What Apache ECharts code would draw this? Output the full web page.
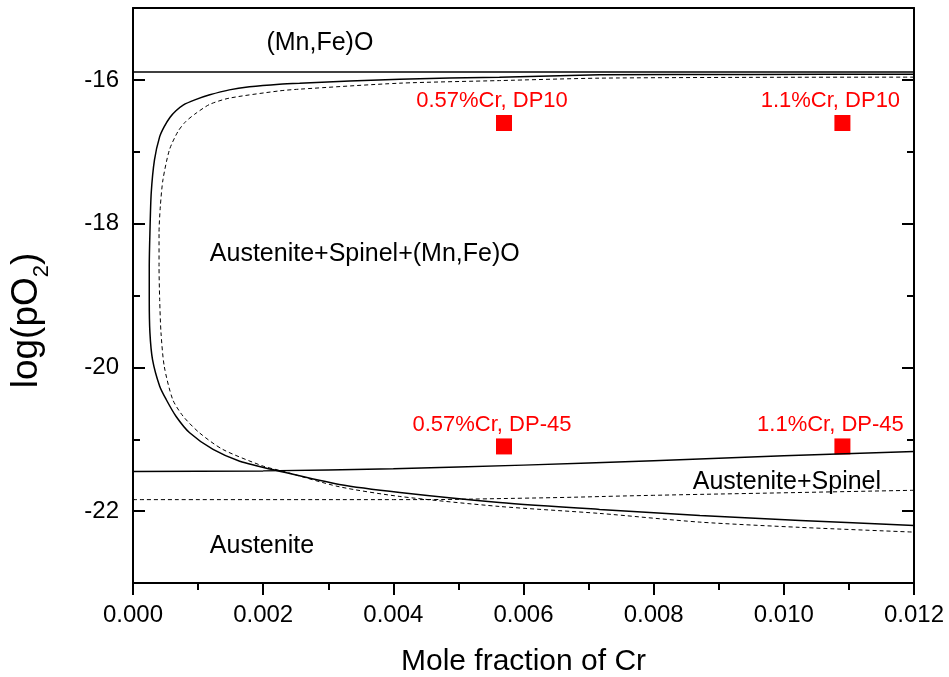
<!DOCTYPE html>
<html>
<head>
<meta charset="utf-8">
<script src="https://cdn.jsdelivr.net/npm/echarts@6/dist/echarts.min.js"></script>
<style>
  html, body { margin: 0; padding: 0; background: #fff; }
  #chart { width: 949px; height: 677px; }
</style>
</head>
<body>
<div id="chart"></div>
<script>
// phase boundary (Mn,Fe)O
const mnfeoLine = [[0, -15.89], [0.012, -15.89]];

// spinel stability loop, solid and dashed
const loopSolid = [
  [0.012, -15.92], [0.00948, -15.924], [0.00717, -15.93], [0.00563, -15.962],
  [0.0041, -15.99], [0.00256, -16.046], [0.00225, -16.06], [0.00179, -16.097],
  [0.00148, -16.139], [0.00118, -16.208], [0.00095, -16.278], [0.00077, -16.35],
  [0.00066, -16.43], [0.00057, -16.52], [0.00048, -16.65], [0.00041, -16.79],
  [0.00033, -17.112], [0.00028, -17.575], [0.00026, -18.127], [0.00025, -18.595],
  [0.00025, -19.058], [0.00026, -19.516], [0.0003, -19.891], [0.00041, -20.262],
  [0.00051, -20.447], [0.00066, -20.68], [0.00087, -20.91], [0.00123, -21.142],
  [0.00164, -21.305], [0.00225, -21.444], [0.00317, -21.629], [0.0041, -21.74],
  [0.00563, -21.879], [0.00717, -21.976], [0.00871, -22.06], [0.01025, -22.129],
  [0.012, -22.199]
];
const loopDashed = [
  [0.012, -15.962], [0.00948, -15.965], [0.00717, -15.976], [0.00563, -16.01],
  [0.0041, -16.046], [0.00256, -16.129], [0.00225, -16.153], [0.00148, -16.254],
  [0.00118, -16.34], [0.00097, -16.463], [0.00081, -16.58], [0.00069, -16.719],
  [0.00056, -16.973], [0.00046, -17.39], [0.00042, -17.761], [0.0004, -18.127],
  [0.0004, -18.595], [0.00041, -19.058], [0.00043, -19.516], [0.00048, -19.985],
  [0.00061, -20.447], [0.00077, -20.68], [0.00102, -20.91], [0.00138, -21.142],
  [0.002, -21.374], [0.0023, -21.444], [0.00317, -21.661], [0.0041, -21.796],
  [0.00563, -21.935], [0.00717, -22.032], [0.00871, -22.153], [0.01025, -22.226],
  [0.012, -22.292]
];

// austenite / austenite+spinel boundary
const crGrid = [0, 0.002, 0.004, 0.006, 0.008, 0.010, 0.012];
const spinelSolid = [-21.45, -21.44, -21.41, -21.36, -21.30, -21.23, -21.17];
const spinelDashed = [-21.84, -21.84, -21.84, -21.82, -21.78, -21.745, -21.71];

// experimental conditions
const expNames = ["0.57%Cr, DP10", "1.1%Cr, DP10", "0.57%Cr, DP-45", "1.1%Cr, DP-45"];
const expCr = [0.0057, 0.0109, 0.0057, 0.0109];
const expLogPO2 = [-16.6, -16.6, -21.1, -21.1];

// region names
const regionNames = ["(Mn,Fe)O", "Austenite+Spinel+(Mn,Fe)O", "Austenite+Spinel", "Austenite"];
const regionCr = [0.00205, 0.00118, 0.0086, 0.00118];
const regionLogPO2 = [-15.49, -18.43, -21.60, -22.49];

const yMajor = [-22, -20, -18, -16];

const font = "Liberation Sans, Arial, sans-serif";
const chart = echarts.init(document.getElementById("chart"));

const baseY = {
  type: "value",
  min: -23,
  max: -15,
  interval: 1,
  splitLine: { show: false }
};

chart.setOption({
  animation: false,
  grid: { left: 133, right: 35, top: 8, bottom: 94, outerBoundsMode: "none" },
  xAxis: [
    {
      type: "value",
      position: "bottom",
      min: 0,
      max: 0.012,
      interval: 0.002,
      name: "Mole fraction of Cr",
      nameLocation: "middle",
      nameGap: 64,
      nameTextStyle: { fontFamily: font, fontSize: 30, color: "#000" },
      axisLine: { lineStyle: { color: "#000", width: 2 } },
      axisTick: { length: 12, lineStyle: { color: "#000", width: 2 } },
      minorTick: { show: true, splitNumber: 2, length: 7, lineStyle: { color: "#000", width: 2 } },
      axisLabel: {
        fontFamily: font, fontSize: 24, color: "#000", margin: 20,
        formatter: v => v.toFixed(3)
      },
      splitLine: { show: false }
    },
    {
      type: "value",
      position: "top",
      min: 0,
      max: 0.012,
      axisLine: { lineStyle: { color: "#000", width: 2 } },
      axisTick: { show: false },
      axisLabel: { show: false },
      splitLine: { show: false }
    }
  ],
  yAxis: [
    Object.assign({}, baseY, {
      position: "left",
      name: "{a|log(pO}{sub|2}{a|)}",
      nameLocation: "middle",
      nameGap: 80,
      nameTextStyle: {
        padding: [0, 50, 0, 0],
        rich: {
          a: { fontFamily: font, fontSize: 37, color: "#000" },
          sub: { fontFamily: font, fontSize: 22, color: "#000", verticalAlign: "top", padding: [30, 0, 0, 0] }
        }
      },
      axisLine: { lineStyle: { color: "#000", width: 2 } },
      axisTick: { inside: true, length: 7, lineStyle: { color: "#000", width: 2 } },
      axisLabel: {
        fontFamily: font, fontSize: 24, color: "#000", margin: 14,
        formatter: v => (Math.abs(v) % 2 === 0 ? String(v) : "")
      }
    }),
    // longer ticks on the labelled values
    Object.assign({}, baseY, {
      position: "left",
      axisLine: { show: false },
      axisTick: { inside: true, length: 12, customValues: yMajor, lineStyle: { color: "#000", width: 2 } },
      axisLabel: { show: false }
    }),
    Object.assign({}, baseY, {
      position: "right",
      axisLine: { lineStyle: { color: "#000", width: 2 } },
      axisTick: { inside: true, length: 7, lineStyle: { color: "#000", width: 2 } },
      axisLabel: { show: false }
    }),
    Object.assign({}, baseY, {
      position: "right",
      axisLine: { show: false },
      axisTick: { inside: true, length: 12, customValues: yMajor, lineStyle: { color: "#000", width: 2 } },
      axisLabel: { show: false }
    })
  ],
  series: [
    {
      type: "line",
      data: mnfeoLine,
      showSymbol: false,
      lineStyle: { color: "#000", width: 1.5 }
    },
    {
      type: "line",
      data: loopSolid,
      showSymbol: false,
      smooth: 0.25,
      lineStyle: { color: "#000", width: 1.5 }
    },
    {
      type: "line",
      data: loopDashed,
      showSymbol: false,
      smooth: 0.25,
      lineStyle: { color: "#000", width: 1, type: [4, 3] }
    },
    {
      type: "line",
      data: crGrid.map((x, i) => [x, spinelSolid[i]]),
      showSymbol: false,
      smooth: true,
      lineStyle: { color: "#000", width: 1.5 }
    },
    {
      type: "line",
      data: crGrid.map((x, i) => [x, spinelDashed[i]]),
      showSymbol: false,
      smooth: true,
      lineStyle: { color: "#000", width: 1, type: [4, 3] }
    },
    {
      type: "scatter",
      symbol: "rect",
      symbolSize: 16,
      itemStyle: { color: "#ff0000", opacity: 1 },
      data: expNames.map((n, i) => ({ name: n, value: [expCr[i], expLogPO2[i]] })),
      label: {
        show: true,
        position: "top",
        distance: 3,
        offset: [-12, 0],
        formatter: "{b}",
        fontFamily: font,
        fontSize: 22,
        color: "#ff0000"
      }
    },
    {
      type: "scatter",
      symbolSize: 0,
      silent: true,
      itemStyle: { opacity: 1 },
      data: regionNames.map((n, i) => ({ name: n, value: [regionCr[i], regionLogPO2[i]] })),
      label: {
        show: true,
        position: "right",
        distance: 0,
        formatter: "{b}",
        fontFamily: font,
        fontSize: 25,
        color: "#000"
      }
    }
  ]
});
</script>
</body>
</html>
